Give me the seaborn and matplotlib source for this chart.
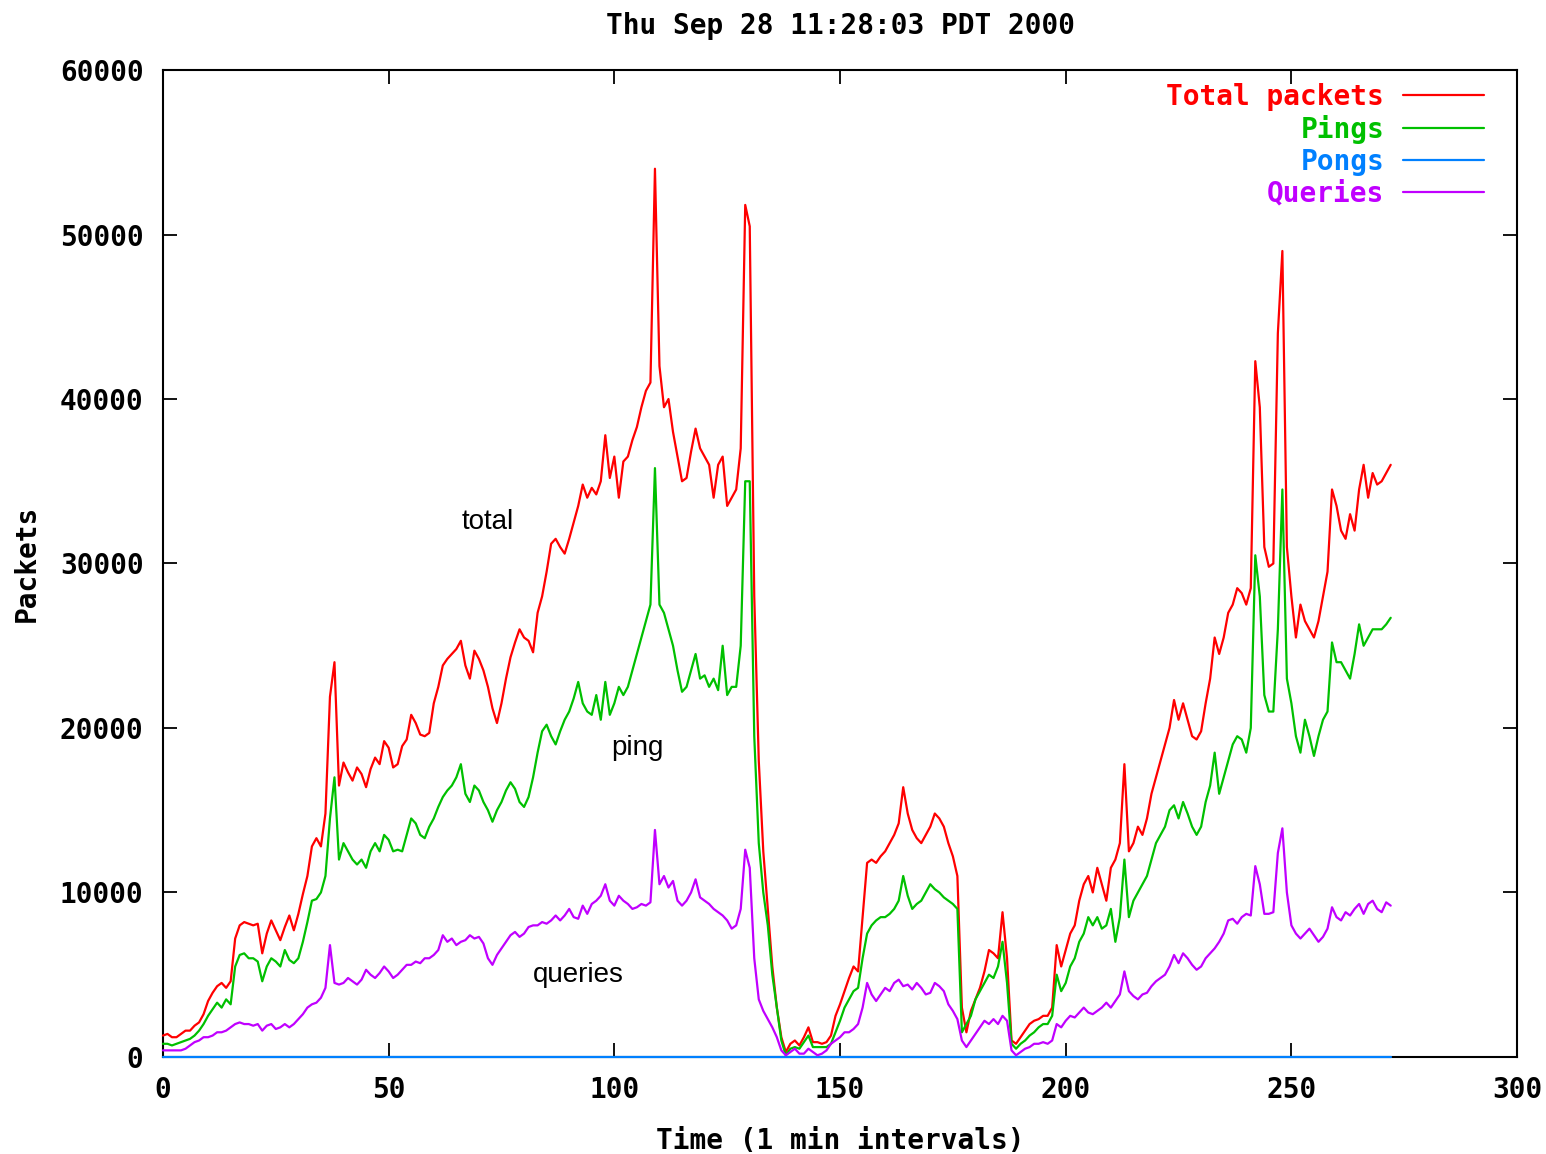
import numpy as np
import pandas as pd
import matplotlib
matplotlib.use('Agg')
import matplotlib.pyplot as plt
from matplotlib.lines import Line2D
import seaborn as sns

# packet counts per 1 min interval, in thousands
total = [
    1.3, 1.4, 1.2, 1.2, 1.4, 1.6, 1.6, 1.9, 2.1, 2.6,
    3.4, 3.9, 4.3, 4.5, 4.2, 4.6, 7.2, 8.0, 8.2, 8.1,
    8.0, 8.1, 6.3, 7.5, 8.3, 7.7, 7.1, 7.9, 8.6, 7.7,
    8.7, 9.9, 11.0, 12.8, 13.3, 12.8, 14.8, 21.9, 24.0, 16.5,
    17.9, 17.3, 16.8, 17.6, 17.2, 16.4, 17.5, 18.2, 17.8, 19.2,
    18.8, 17.6, 17.8, 18.9, 19.3, 20.8, 20.3, 19.6, 19.5, 19.7,
    21.5, 22.5, 23.8, 24.2, 24.5, 24.8, 25.3, 23.8, 23.0, 24.7,
    24.2, 23.5, 22.5, 21.2, 20.3, 21.5, 23.0, 24.3, 25.2, 26.0,
    25.5, 25.3, 24.6, 27.0, 28.0, 29.5, 31.2, 31.5, 31.0, 30.6,
    31.5, 32.5, 33.5, 34.8, 34.0, 34.6, 34.2, 35.0, 37.8, 35.2,
    36.5, 34.0, 36.2, 36.5, 37.5, 38.3, 39.5, 40.5, 41.0, 54.0,
    42.0, 39.5, 40.0, 38.0, 36.5, 35.0, 35.2, 36.8, 38.2, 37.0,
    36.5, 36.0, 34.0, 36.0, 36.5, 33.5, 34.0, 34.5, 37.0, 51.8,
    50.5, 28.0, 18.0, 12.5, 9.0, 5.5, 3.0, 1.2, 0.3, 0.8,
    1.0, 0.7, 1.2, 1.8, 0.9, 0.9, 0.8, 0.9, 1.3, 2.5,
    3.2, 4.0, 4.8, 5.5, 5.2, 8.5, 11.8, 12.0, 11.8, 12.2,
    12.5, 13.0, 13.5, 14.2, 16.4, 14.8, 13.8, 13.3, 13.0, 13.5,
    14.0, 14.8, 14.5, 14.0, 13.0, 12.2, 11.0, 3.0, 1.5, 2.8,
    3.5, 4.2, 5.2, 6.5, 6.3, 6.0, 8.8, 6.0, 1.0, 0.8,
    1.2, 1.6, 2.0, 2.2, 2.3, 2.5, 2.5, 3.0, 6.8, 5.5,
    6.5, 7.5, 8.0, 9.5, 10.5, 11.0, 10.0, 11.5, 10.5, 9.5,
    11.5, 12.0, 13.0, 17.8, 12.5, 13.0, 14.0, 13.5, 14.5, 16.0,
    17.0, 18.0, 19.0, 20.0, 21.7, 20.5, 21.5, 20.5, 19.5, 19.3,
    19.8, 21.5, 23.0, 25.5, 24.5, 25.5, 27.0, 27.5, 28.5, 28.2,
    27.5, 28.5, 42.3, 39.5, 31.0, 29.8, 30.0, 44.0, 49.0, 31.0,
    28.0, 25.5, 27.5, 26.5, 26.0, 25.5, 26.5, 28.0, 29.5, 34.5,
    33.5, 32.0, 31.5, 33.0, 32.0, 34.5, 36.0, 34.0, 35.5, 34.8,
    35.0, 35.5, 36.0,
]

pings = [
    0.8, 0.8, 0.7, 0.8, 0.9, 1.0, 1.1, 1.3, 1.6, 2.0,
    2.5, 2.9, 3.3, 3.0, 3.5, 3.2, 5.5, 6.2, 6.3, 6.0,
    6.0, 5.8, 4.6, 5.5, 6.0, 5.8, 5.5, 6.5, 5.9, 5.7,
    6.0, 7.0, 8.2, 9.5, 9.6, 10.0, 11.0, 14.5, 17.0, 12.0,
    13.0, 12.5, 12.0, 11.7, 12.0, 11.5, 12.5, 13.0, 12.5, 13.5,
    13.2, 12.5, 12.6, 12.5, 13.5, 14.5, 14.2, 13.5, 13.3, 14.0,
    14.5, 15.2, 15.8, 16.2, 16.5, 17.0, 17.8, 16.0, 15.5, 16.5,
    16.2, 15.5, 15.0, 14.3, 15.0, 15.5, 16.2, 16.7, 16.3, 15.5,
    15.2, 15.8, 17.0, 18.5, 19.8, 20.2, 19.5, 19.0, 19.8, 20.5,
    21.0, 21.8, 22.8, 21.5, 21.0, 20.8, 22.0, 20.5, 22.8, 20.8,
    21.5, 22.5, 22.0, 22.5, 23.5, 24.5, 25.5, 26.5, 27.5, 35.8,
    27.5, 27.0, 26.0, 25.0, 23.5, 22.2, 22.5, 23.5, 24.5, 23.0,
    23.2, 22.5, 23.0, 22.3, 25.0, 22.0, 22.5, 22.5, 25.0, 35.0,
    35.0, 19.5, 13.0, 10.0, 8.0, 5.0, 3.0, 1.0, 0.1, 0.5,
    0.6, 0.5, 0.9, 1.3, 0.6, 0.6, 0.6, 0.6, 0.8, 1.5,
    2.2, 3.0, 3.5, 4.0, 4.2, 6.0, 7.5, 8.0, 8.3, 8.5,
    8.5, 8.7, 9.0, 9.5, 11.0, 9.8, 9.0, 9.3, 9.5, 10.0,
    10.5, 10.2, 10.0, 9.7, 9.5, 9.3, 9.0, 1.5, 2.0, 2.5,
    3.5, 4.0, 4.5, 5.0, 4.8, 5.5, 7.0, 4.5, 0.8, 0.5,
    0.8, 1.0, 1.3, 1.5, 1.8, 2.0, 2.0, 2.5, 5.0, 4.0,
    4.5, 5.5, 6.0, 7.0, 7.5, 8.5, 8.0, 8.5, 7.8, 8.0,
    9.0, 7.0, 8.5, 12.0, 8.5, 9.5, 10.0, 10.5, 11.0, 12.0,
    13.0, 13.5, 14.0, 15.0, 15.3, 14.5, 15.5, 14.8, 14.0, 13.5,
    14.0, 15.5, 16.5, 18.5, 16.0, 17.0, 18.0, 19.0, 19.5, 19.3,
    18.5, 20.0, 30.5, 28.0, 22.0, 21.0, 21.0, 26.0, 34.5, 23.0,
    21.5, 19.5, 18.5, 20.5, 19.5, 18.3, 19.5, 20.5, 21.0, 25.2,
    24.0, 24.0, 23.5, 23.0, 24.5, 26.3, 25.0, 25.5, 26.0, 26.0,
    26.0, 26.3, 26.7,
]

queries = [
    0.4, 0.4, 0.4, 0.4, 0.4, 0.5, 0.7, 0.9, 1.0, 1.2,
    1.2, 1.3, 1.5, 1.5, 1.6, 1.8, 2.0, 2.1, 2.0, 2.0,
    1.9, 2.0, 1.6, 1.9, 2.0, 1.7, 1.8, 2.0, 1.8, 2.0,
    2.3, 2.6, 3.0, 3.2, 3.3, 3.6, 4.2, 6.8, 4.5, 4.4,
    4.5, 4.8, 4.6, 4.4, 4.7, 5.3, 5.0, 4.8, 5.1, 5.5,
    5.2, 4.8, 5.0, 5.3, 5.6, 5.6, 5.8, 5.7, 6.0, 6.0,
    6.2, 6.5, 7.4, 7.0, 7.2, 6.8, 7.0, 7.1, 7.4, 7.2,
    7.3, 6.9, 6.0, 5.6, 6.2, 6.6, 7.0, 7.4, 7.6, 7.3,
    7.5, 7.9, 8.0, 8.0, 8.2, 8.1, 8.3, 8.6, 8.3, 8.6,
    9.0, 8.5, 8.4, 9.2, 8.7, 9.3, 9.5, 9.8, 10.5, 9.5,
    9.2, 9.8, 9.5, 9.3, 9.0, 9.1, 9.3, 9.2, 9.4, 13.8,
    10.5, 11.0, 10.3, 10.7, 9.5, 9.2, 9.5, 10.0, 10.8, 9.7,
    9.5, 9.3, 9.0, 8.8, 8.6, 8.3, 7.8, 8.0, 9.0, 12.6,
    11.5, 6.0, 3.5, 2.8, 2.3, 1.8, 1.2, 0.4, 0.1, 0.3,
    0.5, 0.2, 0.2, 0.5, 0.3, 0.1, 0.2, 0.4, 0.8, 1.0,
    1.2, 1.5, 1.5, 1.7, 2.0, 3.0, 4.5, 3.8, 3.4, 3.8,
    4.2, 4.0, 4.5, 4.7, 4.3, 4.4, 4.1, 4.5, 4.2, 3.8,
    3.9, 4.5, 4.3, 4.0, 3.2, 2.8, 2.3, 1.0, 0.6, 1.0,
    1.4, 1.8, 2.2, 2.0, 2.3, 2.0, 2.5, 2.2, 0.4, 0.1,
    0.3, 0.5, 0.6, 0.8, 0.8, 0.9, 0.8, 1.0, 2.0, 1.8,
    2.2, 2.5, 2.4, 2.7, 3.0, 2.7, 2.6, 2.8, 3.0, 3.3,
    3.0, 3.4, 3.8, 5.2, 4.0, 3.7, 3.5, 3.8, 3.9, 4.3,
    4.6, 4.8, 5.0, 5.5, 6.2, 5.7, 6.3, 6.0, 5.6, 5.3,
    5.5, 6.0, 6.3, 6.6, 7.0, 7.5, 8.3, 8.4, 8.1, 8.5,
    8.7, 8.6, 11.6, 10.5, 8.7, 8.7, 8.8, 12.4, 13.9, 10.0,
    8.0, 7.5, 7.2, 7.5, 7.8, 7.4, 7.0, 7.3, 7.8, 9.1,
    8.5, 8.3, 8.8, 8.6, 9.0, 9.3, 8.7, 9.3, 9.5, 9.0,
    8.8, 9.4, 9.2,
]

# pongs sit on the zero line for the whole run
pongs = [0.0] * len(total)

series_names = ['Total packets', 'Pings', 'Pongs', 'Queries']
colors = ['#ff0000', '#00c000', '#0080ff', '#c000ff']

n = len(total)
time = np.arange(n)
df = pd.DataFrame({
    'time': np.tile(time, 4),
    'packets': np.concatenate([total, pings, pongs, queries]) * 1000,
    'series': np.repeat(series_names, n),
})

sns.set_style('ticks')
mono = 'DejaVu Sans Mono'
plt.rcParams['font.family'] = [mono]
plt.rcParams['font.weight'] = 'bold'
plt.rcParams['text.color'] = 'black'
plt.rcParams['axes.labelcolor'] = 'black'

fig = plt.figure(figsize=(15.46, 11.54), dpi=100)
ax = fig.add_axes([0.1054, 0.0841, 0.8759, 0.8552])

sns.lineplot(data=df, x='time', y='packets', hue='series', hue_order=series_names,
             palette=colors, linewidth=1.6, estimator=None, sort=False,
             legend=False, ax=ax)
for line in ax.lines:
    line.set_clip_on(False)
    line.set_zorder(3)

ax.set_xlim(0, 300)
ax.set_ylim(0, 60000)
ax.set_xticks(range(0, 301, 50))
ax.set_yticks(range(0, 60001, 10000))
ax.tick_params(direction='in', length=10, width=1.3, top=True, right=True,
               labelsize=20, pad=14, colors='black')
for lab in ax.get_xticklabels() + ax.get_yticklabels():
    lab.set_fontweight('bold')
for sp in ax.spines.values():
    sp.set_visible(True)
    sp.set_linewidth(1.5)
    sp.set_color('black')

ax.set_title('Thu Sep 28 11:28:03 PDT 2000', fontsize=20, fontweight='bold',
             pad=26, color='black')
ax.set_xlabel('Time (1 min intervals)', fontsize=20, fontweight='bold', labelpad=16)
ax.set_ylabel('Packets', fontsize=20, fontweight='bold', labelpad=14)

# hand-placed labels on the curves
ax.text(72, 32500, 'total', ha='center', va='center', fontsize=20,
        family='Liberation Sans', fontweight='normal', color='black')
ax.text(105, 18800, 'ping', ha='center', va='center', fontsize=20,
        family='Liberation Sans', fontweight='normal', color='black')
ax.text(92, 5000, 'queries', ha='center', va='center', fontsize=20,
        family='Liberation Sans', fontweight='normal', color='black')

handles = [Line2D([], [], color=c, linewidth=1.6) for c in colors]
ax.legend(handles, series_names, loc='upper right', bbox_to_anchor=(0.9756, 0.987),
          markerfirst=False, frameon=False, labelcolor=colors,
          prop={'family': mono, 'weight': 'bold', 'size': 20},
          handlelength=2.9, handletextpad=0.7, labelspacing=0.14,
          borderpad=0, borderaxespad=0)

fig.savefig('out.png', dpi=100)
